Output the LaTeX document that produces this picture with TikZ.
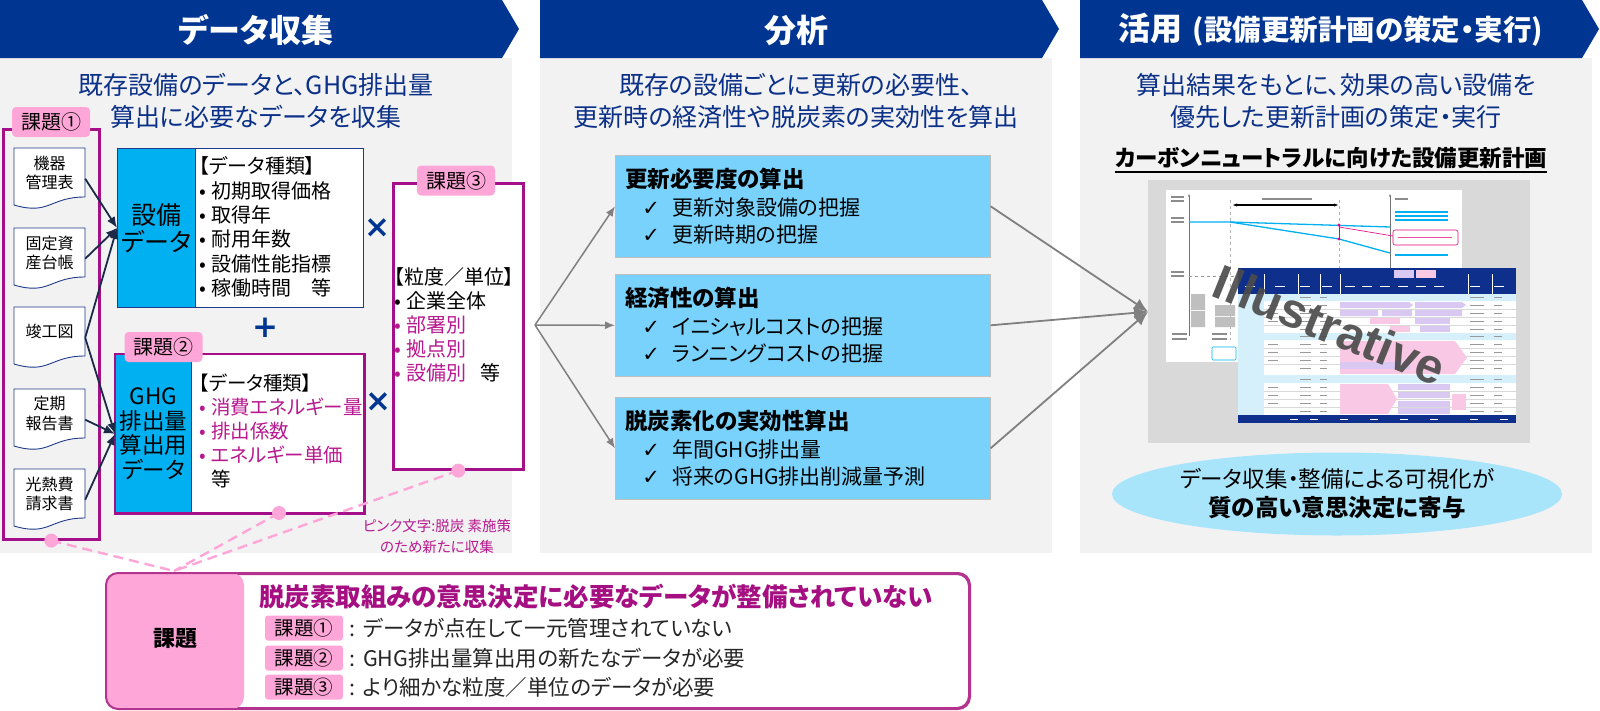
\documentclass[tikz,border=0pt]{standalone}
\usepackage{fontspec}
\setmainfont{Noto Sans CJK JP}[RawFeature=+palt]
\newfontfamily\dejavu{DejaVu Sans}
\newfontfamily\wmfont{Liberation Sans}
\usetikzlibrary{arrows.meta,positioning,calc,shapes.geometric}
\definecolor{hdrblue}{HTML}{003591}
\definecolor{panelgray}{HTML}{F2F2F2}
\definecolor{navytext}{HTML}{0B3088}
\definecolor{navyline}{HTML}{1F3A8A}
\definecolor{arrowdark}{HTML}{1C2A48}
\definecolor{eqcyan}{HTML}{00B0F0}
\definecolor{calcblue}{HTML}{78D2FC}
\definecolor{kadaimag}{HTML}{A5108A}
\definecolor{pinktext}{HTML}{B8198F}
\definecolor{pinktag}{HTML}{FFA6D8}
\definecolor{flowgray}{HTML}{808080}
\definecolor{illusgray}{HTML}{D9D9D9}
\definecolor{ovalblue}{HTML}{A9E5FA}
\definecolor{kadaiframe}{HTML}{B4338F}
\definecolor{kadaititle}{HTML}{A50F82}
\definecolor{bodytext}{HTML}{262626}
\definecolor{tblblue}{HTML}{0F2F8C}
\definecolor{tbllight}{HTML}{D5F0FB}
\definecolor{barpink}{HTML}{F8C8E4}
\definecolor{barlav}{HTML}{D9C9F2}
\definecolor{chartpink}{HTML}{E6007E}
\newcommand{\fsz}[2]{\fontsize{#1}{#2}\selectfont}
\newcommand{\bul}{\makebox[12pt][l]{•}}
\newcommand{\chk}{\makebox[30pt][l]{\dejavu ✓}}
\tikzset{
  hdrtext/.style={text=white, font=\fsz{32}{38}\bfseries, inner sep=0pt},
  subtext/.style={text=navytext, align=center, font=\fsz{25}{32}, inner sep=0pt},
  docbox/.style={anchor=north, minimum width=71pt, minimum height=49pt, inner sep=0pt, align=center, font=\fsz{16}{19.5}},
  docline/.style={draw=navyline, line width=0.9pt, fill=white},
  grpbox/.style={draw=kadaimag, line width=2.6pt, anchor=north west, inner sep=0pt},
  tagbox/.style={fill=pinktag, rounded corners=4pt, minimum width=78pt, minimum height=30pt, inner sep=0pt, font=\fsz{20}{24}},
  smalltag/.style={fill=pinktag, rounded corners=3pt, minimum width=78pt, minimum height=25pt, inner sep=0pt, font=\fsz{19.5}{22}},
  datacol/.style={fill=eqcyan, draw=navyline, line width=0.8pt, anchor=north west, minimum height=159pt, inner sep=0pt, align=center},
  listtext/.style={anchor=west, align=left, inner sep=0pt, font=\fsz{20}{24.4}},
  opsign/.style={text=hdrblue, font=\dejavu\bfseries\fsz{31}{31}, inner sep=0pt},
  pinkdot/.style={circle, fill=pinktag, minimum size=14pt, inner sep=0pt},
  pinkdash/.style={draw=pinktag, line width=2.4pt, dash pattern=on 10pt off 6pt},
  docarrow/.style={-{Latex[length=11pt,width=9pt]}, line width=1.8pt, draw=arrowdark},
  flowarrow/.style={-{Latex[length=10pt,width=8pt]}, line width=1.5pt, draw=flowgray},
  mergearrow/.style={-{Latex[length=14pt,width=12pt]}, line width=1.8pt, draw=flowgray},
  calcbox/.style={fill=calcblue, draw=black!25, line width=0.6pt, anchor=north west, minimum height=102pt, text width=355pt, inner xsep=10pt, inner ysep=0pt, align=left, font=\fsz{21}{27.5}},
  fakeline/.style={line width=1.1pt, draw=black!45},
}

\begin{document}
\begin{tikzpicture}[x=1pt, y=-1pt, font=\fsz{20}{24}]
  \useasboundingbox (0,0) rectangle (1600,710);

  % panels and chevron headers
  \foreach \l/\r in {0/512, 540/1052, 1080/1592} {
    \fill[panelgray] (\l,58) rectangle (\r,553);
    \fill[hdrblue] (\l,0) -- (\r-10,0) -- (\r+7,29) -- (\r-10,58) -- (\l,58) -- cycle;
  }
  \node[hdrtext] (hdr1) at (256,30) {データ収集};
  \node[hdrtext] (hdr2) at (796,30) {分析};
  \node[hdrtext] (hdr3) at (1331,30) {活用\hspace{10pt}{\fsz{28.5}{32}(設備更新計画の策定・実行)}};

  \node[subtext] (sub1) at (256,101) {既存設備のデータと、GHG排出量\\算出に必要なデータを収集};
  \node[subtext] (sub2) at (796,101) {既存の設備ごとに更新の必要性、\\更新時の経済性や脱炭素の実効性を算出};
  \node[subtext] (sub3) at (1336,101) {算出結果をもとに、効果の高い設備を\\優先した更新計画の策定・実行};

  % data collection
  \node[grpbox, minimum width=96pt, minimum height=410pt] (grp1) at (2,128) {};
  \foreach \k/\t/\txt in {1/148/{機器\\管理表}, 2/228/{固定資\\産台帳}, 3/307/{竣工図}, 4/389/{定期\\報告書}, 5/469/{光熱費\\請求書}} {
    \draw[docline] (14,\t) -- (85,\t) -- (85,\t+49) .. controls (49.5,\t+49) and (49.5,\t+67.5) .. (14,\t+57) -- cycle;
    \node[docbox] (doc\k) at (49.5,\t) {\txt};
  }
  \node[tagbox] (tag1) at (51,122) {課題①};

  \node[draw=navyline, line width=1.2pt, fill=white, anchor=north west, minimum width=246pt, minimum height=159pt, inner sep=0pt] (setsubi) at (117,148) {};
  \node[datacol, minimum width=78pt, font=\fsz{25}{27}] (setsubiL) at (117,148) {設備\\データ};
  \node[listtext] (setsubiList) at (199,227) {【データ種類】\\\bul 初期取得価格\\\bul 取得年\\\bul 耐用年数\\\bul 設備性能指標\\\bul 稼働時間　等};

  \node[fill=white, anchor=north west, minimum width=249pt, minimum height=159pt, inner sep=0pt] (ghg) at (115,354) {};
  \node[datacol, minimum width=76pt, font=\fsz{22.5}{24.5}] (ghgL) at (115,354) {GHG\\排出量\\算出用\\データ};
  \draw[kadaimag, line width=2.6pt] (ghg.north west) rectangle (ghg.south east);
  \node[listtext, font=\fsz{19.5}{23.8}] (ghgList) at (199,431) {【データ種類】\\{\color{pinktext}\bul 消費エネルギー量}\\{\color{pinktext}\bul 排出係数}\\{\color{pinktext}\bul エネルギー単価}\\\hspace*{12pt}等};
  \node[tagbox] (tag2) at (163.5,347) {課題②};

  \node[opsign] (plus) at (265,328) {+};
  \node[opsign] (times1) at (377,228) {×};
  \node[opsign] (times2) at (378,402) {×};

  \node[grpbox, fill=white, minimum width=130pt, minimum height=286pt] (grp3) at (392,182) {};
  \node[listtext, font=\fsz{20}{24}] (grp3List) at (394,325) {【粒度／単位】\\\bul 企業全体\\{\color{pinktext}\bul 部署別}\\{\color{pinktext}\bul 拠点別}\\{\color{pinktext}\bul 設備別}\hspace{14pt}等};
  \node[tagbox] (tag3) at (456,180.5) {課題③};

  \draw[docarrow] ([yshift=-6pt]doc1.east) -- (setsubiL.west);
  \draw[docarrow] ([yshift=-6pt]doc2.east) -- (setsubiL.west);
  \draw[docarrow] ([yshift=-6pt]doc3.east) -- (setsubiL.west);
  \draw[docarrow] ([yshift=-6pt]doc3.east) -- (ghgL.west);
  \draw[docarrow] ([yshift=-6pt]doc4.east) -- (ghgL.west);
  \draw[docarrow] ([yshift=-6pt]doc5.east) -- (ghgL.west);

  \node[text=pinktext, align=center, inner sep=0pt, font=\fsz{14.5}{21}] (pinknote) at (437,536) {ピンク文字:脱炭 素施策\\のため新たに収集};

  % analysis
  \node[calcbox] (need) at (615,155) {{\fsz{22.5}{27.5}\bfseries 更新必要度の算出}\\\hspace*{17pt}\chk 更新対象設備の把握\\\hspace*{17pt}\chk 更新時期の把握};
  \node[calcbox] (econ) at (615,274) {{\fsz{22.5}{27.5}\bfseries 経済性の算出}\\\hspace*{17pt}\chk イニシャルコストの把握\\\hspace*{17pt}\chk ランニングコストの把握};
  \node[calcbox] (decarb) at (615,397) {{\fsz{22.5}{27.5}\bfseries 脱炭素化の実効性算出}\\\hspace*{17pt}\chk 年間GHG排出量\\\hspace*{17pt}\chk 将来のGHG排出削減量予測};

  \coordinate (fan) at (535,325);
  \draw[flowarrow] (fan) -- (need.west);
  \draw[flowarrow] (fan) -- (econ.west);
  \draw[flowarrow] (fan) -- (decarb.west);

  % utilisation
  \node[font=\fsz{22.5}{26}\bfseries, inner sep=0pt] (plan) at (1331,158) {カーボンニュートラルに向けた設備更新計画};
  \draw[line width=2pt] ([yshift=-3pt]plan.south west) -- ([yshift=-3pt]plan.south east);

  \node[fill=illusgray, anchor=north west, minimum width=382pt, minimum height=263pt, inner sep=0pt] (illus) at (1148,180) {};

  % chart sketch
  \fill[white] (1166,190) rectangle (1462,362);
  \draw[black!55, line width=0.6pt, -{Stealth[length=3pt]}] (1189,336) -- (1189,194);
  \draw[black!55, line width=0.6pt, -{Stealth[length=3pt]}] (1390,270) -- (1390,194);
  \draw[black!40, line width=0.5pt, dashed] (1189,276) -- (1462,276);
  \draw[black!30, line width=0.5pt, dashed] (1230,200) -- (1230,340);
  \draw[black!30, line width=0.5pt, dashed] (1339,200) -- (1339,268);
  \draw[black, line width=1.4pt, {Stealth[length=4pt]}-{Stealth[length=4pt]}] (1233,205) -- (1338,205);
  \draw[eqcyan, line width=1.3pt] (1189,222) -- (1230,222) -- (1390,227);
  \draw[eqcyan, line width=1.3pt] (1230,222) -- (1339,239) -- (1390,253);
  \draw[chartpink, line width=1pt] (1339,225) -- (1339,239);
  \fill[chartpink] (1339,225) circle (1.6) (1339,239) circle (1.6);
  \draw[chartpink, line width=0.6pt] (1339,227) -- (1393,236);
  \draw[chartpink, line width=0.6pt, rounded corners=2pt, fill=white] (1393,230) rectangle (1458,245);
  \draw[chartpink!70, line width=1pt] (1398,237.5) -- (1452,237.5);
  \fill[black!25] (1191,294) rectangle (1205,310) (1191,311) rectangle (1205,327)
                  (1215,305) rectangle (1235,316) (1215,317) rectangle (1235,327);
  \foreach \yy in {197,201,218,222,272,276} \draw[fakeline] (1171,\yy) -- (1184,\yy);
  \foreach \yy in {212,216,220,255} \draw[fakeline, draw=eqcyan] (1395,\yy) -- (1448,\yy);
  \draw[fakeline] (1395,199) -- (1408,199);
  \draw[fakeline] (1262,199) -- (1312,199);
  \foreach \xx in {1172,1212} \draw[fakeline] (\xx,334) -- (\xx+15,334) (\xx,339) -- (\xx+15,339);
  \draw[eqcyan, line width=0.6pt, rounded corners=1pt] (1212,347) rectangle (1236,360);

  % table sketch
  \fill[white] (1238,268) rectangle (1516,423);
  \fill[tblblue] (1238,268) rectangle (1516,294);
  \fill[tblblue] (1238,415) rectangle (1516,423);
  \fill[tbllight] (1238,294) rectangle (1516,301) (1238,333) rectangle (1516,340) (1238,375) rectangle (1516,383);
  \fill[tbllight] (1238,294) rectangle (1264,415);
  \foreach \yy in {309,317,325,348,356,364,391,399,407} \draw[black!15, line width=0.3pt] (1264,\yy) -- (1516,\yy);
  \foreach \xx in {1264,1298,1320,1340,1468,1492} \draw[white, line width=0.5pt] (\xx,274) -- (\xx,294);
  \foreach \xx in {1245,1275,1300,1322,1345,1362,1380,1398,1416,1434,1470,1494} \draw[white, line width=0.9pt] (\xx,286) -- (\xx+10,286);
  \fill[barlav] (1394,270) rectangle (1414,278);
  \fill[barpink] (1416,270) rectangle (1436,278);
  \fill[barlav] (1340,302) -- (1409,302) -- (1413,305) -- (1409,308) -- (1340,308) -- cycle;
  \fill[barlav] (1415,302) -- (1462,302) -- (1466,305) -- (1462,308) -- (1415,308) -- cycle;
  \fill[barlav] (1340,310) rectangle (1378,316) (1382,310) rectangle (1412,316) (1415,310) rectangle (1462,316);
  \fill[barpink] (1370,318) rectangle (1400,324);
  \fill[barlav] (1415,318) rectangle (1450,324);
  \fill[barpink] (1390,326) rectangle (1410,332);
  \fill[barlav] (1420,326) rectangle (1450,332);
  \fill[barpink] (1340,341) -- (1455,341) -- (1467,357.5) -- (1455,374) -- (1340,374) -- cycle;
  \fill[barlav] (1340,362) rectangle (1410,369);
  \fill[barpink] (1340,384) -- (1388,384) -- (1397,399) -- (1388,414) -- (1340,414) -- cycle;
  \foreach \yy in {384,392,401,408} \fill[barlav] (1398,\yy) rectangle (1450,\yy+6);
  \fill[barpink] (1452,394) rectangle (1466,410);
  \foreach \yy in {297.5,305,313,321,329,336.5,344,352,360,368,379,387,395,403,411} {
    \draw[line width=0.9pt, draw=black!40] (1300,\yy) -- (1311,\yy) (1320,\yy) -- (1327,\yy) (1470,\yy) -- (1484,\yy) (1494,\yy) -- (1502,\yy);
  }
  \foreach \yy in {305,313,321,344,352,360,387,395,403} \draw[line width=0.9pt, draw=black!40] (1268,\yy) -- (1278,\yy);
  \foreach \xx in {1290,1310,1340,1370,1400,1430,1470,1500} \draw[white, line width=0.9pt] (\xx,419) -- (\xx+8,419);

  \node[rotate=-22, text=black!70, opacity=0.92, font=\wmfont\bfseries\fsz{49}{49}, inner sep=0pt] (illusmark) at (1330,325) {Illustrative};

  \draw[mergearrow] (need.east) -- (illus.west);
  \draw[mergearrow] (econ.east) -- (illus.west);
  \draw[mergearrow] (decarb.east) -- (illus.west);

  \node[ellipse, fill=ovalblue, minimum width=450pt, minimum height=83pt, inner sep=0pt, align=center, font=\fsz{22.5}{29}] (effect) at (1337,494) {データ収集・整備による可視化が\\{\fsz{23.5}{29}\bfseries 質の高い意思決定に寄与}};

  % issues
  \node[draw=kadaiframe, line width=2pt, fill=white, rounded corners=12pt, anchor=north west, minimum width=862pt, minimum height=134pt, inner sep=0pt] (kadai) at (106,573) {};
  \fill[pinktag, rounded corners=12pt] (kadai.north west) rectangle ([xshift=138pt]kadai.south west);
  \draw[kadaiframe, line width=2pt, rounded corners=12pt] (kadai.north west) rectangle (kadai.south east);
  \node[font=\fsz{22}{26}\bfseries, inner sep=0pt] (kadailabel) at (175,639) {課題};
  \node[anchor=west, text=kadaititle, font=\fsz{25.5}{30}\bfseries, inner sep=0pt] (kadaihead) at (259,597) {脱炭素取組みの意思決定に必要なデータが整備されていない};
  \foreach \k/\mk/\yy/\txt in {1/①/628/データが点在して一元管理されていない, 2/②/658/GHG排出量算出用の新たなデータが必要, 3/③/687/より細かな粒度／単位のデータが必要} {
    \node[smalltag] (btag\k) at (304,\yy) {課題\mk};
    \node[anchor=west, inner sep=0pt, text=bodytext, font=\fsz{21.5}{24}] (brow\k) at (349,\yy) {:\hspace{8pt}\txt};
  }

  \coordinate (kadaitop) at (174,571);
  \draw[pinkdash] (grp1.south) -- (kadaitop);
  \draw[pinkdash] (279,513) -- (kadaitop);
  \draw[pinkdash] (grp3.south) -- (kadaitop);
  \node[pinkdot] (dot1) at (grp1.south) {};
  \node[pinkdot] (dot2) at (279,513) {};
  \node[pinkdot] (dot3) at (grp3.south) {};
\end{tikzpicture}
\end{document}
